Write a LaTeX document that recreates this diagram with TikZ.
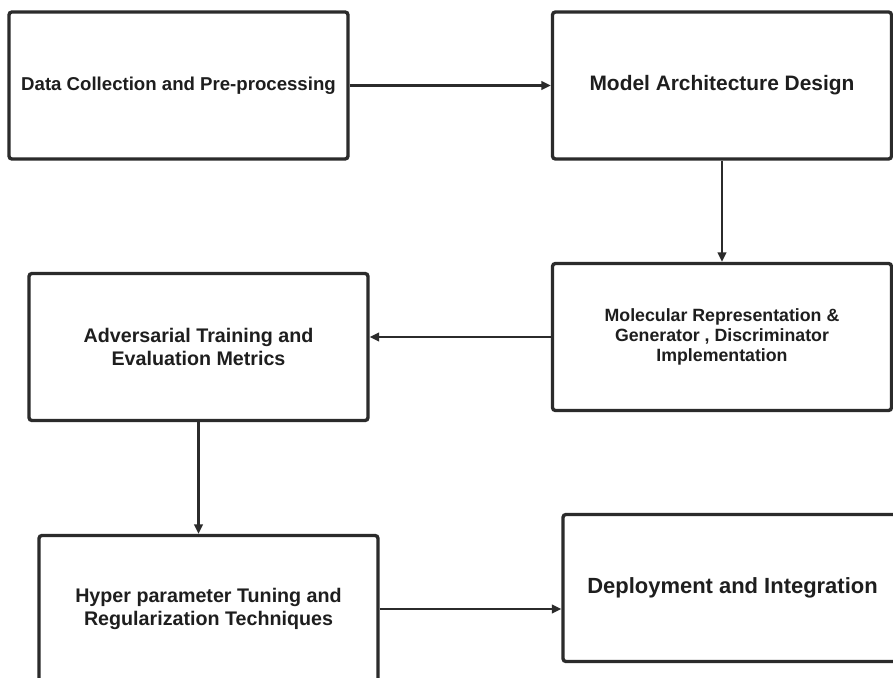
\documentclass[tikz,border=0pt]{standalone}
\usepackage{fontspec}
\setmainfont{Liberation Sans}
\usepackage{tikz}
\usetikzlibrary{arrows.meta,positioning}
\usepackage{xcolor}
\definecolor{edge}{HTML}{2B2B2B}
\definecolor{ink}{HTML}{1E1E1E}

\begin{document}
\begin{tikzpicture}[
    x=0.02cm, y=-0.02cm,
    stage/.style={draw=edge, line width=1.9pt, rounded corners=1.6pt, minimum width=6.78cm, minimum height=2.94cm, align=center, text=ink, font=\bfseries},
    flow/.style={draw=edge, line width=1.3pt, -{Triangle[length=5.4pt, width=4.8pt]}},
    >=Stealth
  ]
  \useasboundingbox (0,0) rectangle (893,678);
  \clip (0,0) rectangle (893,678);
  \fill[white] (0,0) rectangle (893,678);

  % Stages
  \node[stage, font=\bfseries\fontsize{10.6pt}{12pt}\selectfont] (collect) at (178.5, 85.5) {Data Collection and Pre-processing};
  \node[stage, font=\bfseries\fontsize{11.9pt}{13pt}\selectfont] (design) at (722, 85.5) {Model Architecture Design};
  \node[stage, font=\bfseries\fontsize{10.1pt}{11.4pt}\selectfont] (molgen) at (722, 337) {Molecular Representation \&\\Generator , Discriminator\\Implementation};
  \node[stage, font=\bfseries\fontsize{11.2pt}{13pt}\selectfont] (advtrain) at (198.5, 347) {Adversarial Training and\\Evaluation Metrics};
  \node[stage, font=\bfseries\fontsize{11.2pt}{12.6pt}\selectfont] (tuning) at (208.5, 609) {Hyper parameter Tuning and\\Regularization Techniques};
  \node[stage, font=\bfseries\fontsize{12.5pt}{14pt}\selectfont] (deploy) at (732.5, 588) {Deployment and Integration};

  % Connectors
  \draw[flow] (collect.east) -- (design.west);
  \draw[flow] (design.south) -- (molgen.north);
  \draw[flow] (molgen.west) -- (molgen.west -| advtrain.east);
  \draw[flow] (advtrain.south) -- (advtrain.south |- tuning.north);
  \draw[flow] (tuning.east) -- (tuning.east -| deploy.west);
\end{tikzpicture}
\end{document}
